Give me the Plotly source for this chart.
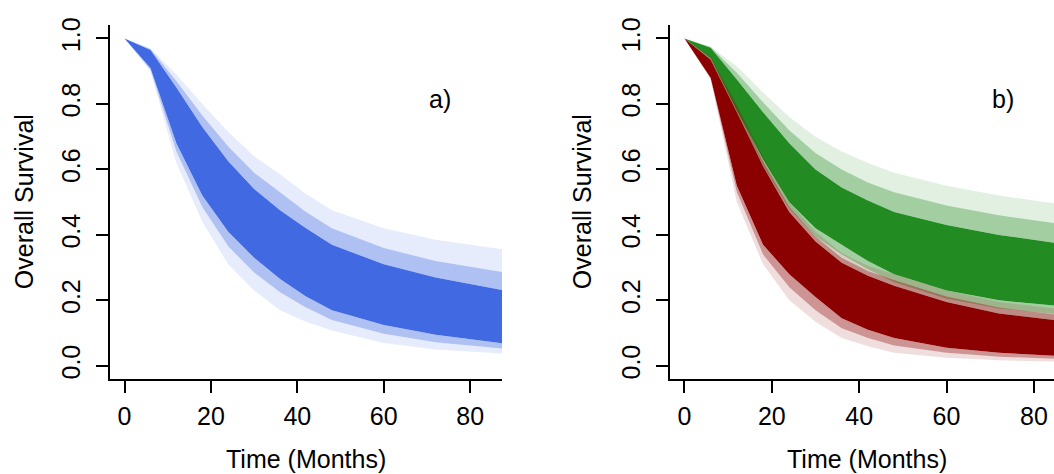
import plotly.graph_objects as go

# ---------------- data ----------------
months = [0, 6, 12, 18, 24, 30, 36, 42, 48, 60, 72, 88]
x_ticks = [0, 20, 40, 60, 80]
y_ticks = [0.0, 0.2, 0.4, 0.6, 0.8, 1.0]

# panel a) - blue envelope of simulated survival curves
blue_outer_lo = [1.0, 0.900, 0.620, 0.440, 0.310, 0.230, 0.170, 0.135, 0.108, 0.070, 0.050, 0.037]
blue_mid_lo   = [1.0, 0.905, 0.655, 0.485, 0.365, 0.285, 0.225, 0.178, 0.140, 0.098, 0.072, 0.052]
blue_core_lo  = [1.0, 0.910, 0.680, 0.520, 0.410, 0.330, 0.265, 0.212, 0.170, 0.125, 0.095, 0.068]
blue_core_up  = [1.0, 0.965, 0.850, 0.730, 0.625, 0.540, 0.475, 0.420, 0.370, 0.310, 0.270, 0.230]
blue_mid_up   = [1.0, 0.968, 0.870, 0.765, 0.670, 0.590, 0.530, 0.470, 0.420, 0.360, 0.320, 0.285]
blue_outer_up = [1.0, 0.970, 0.890, 0.800, 0.715, 0.640, 0.585, 0.525, 0.475, 0.420, 0.385, 0.355]

# panel b) - green envelope
green_outer_lo = [1.0, 0.930, 0.750, 0.590, 0.460, 0.370, 0.310, 0.270, 0.230, 0.180, 0.150, 0.130]
green_mid_lo   = [1.0, 0.935, 0.765, 0.610, 0.480, 0.395, 0.340, 0.295, 0.255, 0.205, 0.175, 0.155]
green_core_lo  = [1.0, 0.940, 0.780, 0.630, 0.500, 0.420, 0.370, 0.320, 0.280, 0.230, 0.200, 0.180]
green_core_up  = [1.0, 0.972, 0.875, 0.775, 0.680, 0.600, 0.545, 0.505, 0.470, 0.430, 0.400, 0.370]
green_mid_up   = [1.0, 0.974, 0.895, 0.805, 0.720, 0.650, 0.600, 0.560, 0.530, 0.490, 0.460, 0.430]
green_outer_up = [1.0, 0.975, 0.915, 0.835, 0.760, 0.700, 0.655, 0.620, 0.590, 0.550, 0.520, 0.490]

# panel b) - red envelope
red_outer_lo = [1.0, 0.875, 0.500, 0.310, 0.200, 0.135, 0.085, 0.060, 0.040, 0.025, 0.017, 0.012]
red_mid_lo   = [1.0, 0.878, 0.530, 0.340, 0.240, 0.170, 0.115, 0.085, 0.062, 0.040, 0.028, 0.020]
red_core_lo  = [1.0, 0.880, 0.550, 0.370, 0.280, 0.210, 0.145, 0.110, 0.085, 0.055, 0.040, 0.028]
red_core_up  = [1.0, 0.935, 0.775, 0.610, 0.470, 0.380, 0.315, 0.275, 0.245, 0.195, 0.160, 0.135]
red_mid_up   = [1.0, 0.940, 0.790, 0.625, 0.485, 0.395, 0.330, 0.290, 0.262, 0.212, 0.178, 0.152]
red_outer_up = [1.0, 0.945, 0.800, 0.640, 0.500, 0.410, 0.345, 0.305, 0.280, 0.230, 0.195, 0.170]

BLUE = "65,105,225"
GREEN = "34,139,34"
RED = "139,0,0"
FONT = "Liberation Sans, Arial, Helvetica, sans-serif"

fig = go.Figure()


def add_band(curves, rgb, xa, ya, alphas=(0.13, 0.42, 1.0, 0.42, 0.13)):
    for i, ys in enumerate(curves):
        fig.add_trace(go.Scatter(
            x=months, y=ys, mode="lines",
            line=dict(width=0, color="rgba(%s,0)" % rgb),
            fill="none" if i == 0 else "tonexty",
            fillcolor="rgba(%s,%s)" % (rgb, alphas[i - 1] if i else 0),
            hoverinfo="skip", showlegend=False, xaxis=xa, yaxis=ya))


add_band([blue_outer_lo, blue_mid_lo, blue_core_lo, blue_core_up, blue_mid_up, blue_outer_up], BLUE, "x", "y")
add_band([green_outer_lo, green_mid_lo, green_core_lo, green_core_up, green_mid_up, green_outer_up], GREEN, "x2", "y2")
add_band([red_outer_lo, red_mid_lo, red_core_lo, red_core_up, red_mid_up, red_outer_up], RED, "x2", "y2")

W, H = 1054, 474
ydom = [(H - 377.3) / H, (H - 17.7) / H]

axis_common = dict(showline=True, linecolor="black", linewidth=1.8, mirror=False,
                   ticks="outside", ticklen=12, tickwidth=1.8, tickcolor="black",
                   showgrid=False, zeroline=False,
                   tickfont=dict(family=FONT, size=25, color="black"))

fig.update_layout(
    width=W, height=H, margin=dict(l=0, r=0, t=0, b=0),
    paper_bgcolor="white", plot_bgcolor="white", showlegend=False,
    xaxis=dict(domain=[110 / W, 502 / W], range=[-3.36, 87.36], tickvals=x_ticks,
               anchor="y", ticklabelstandoff=2, **axis_common),
    yaxis=dict(domain=ydom, range=[-0.04, 1.04], tickvals=y_ticks, tickformat=".1f",
               tickangle=-90, anchor="x", ticklabelstandoff=6, **axis_common),
    xaxis2=dict(domain=[669.7 / W, 1.0], range=[-3.37, 84.6], tickvals=x_ticks,
                anchor="y2", ticklabelstandoff=2, **axis_common),
    yaxis2=dict(domain=ydom, range=[-0.04, 1.04], tickvals=y_ticks, tickformat=".1f",
                tickangle=-90, anchor="x2", ticklabelstandoff=6, **axis_common),
)

ann_font = dict(family=FONT, size=25, color="black")
fig.add_annotation(text="a)", x=73, y=0.815, xref="x", yref="y", showarrow=False, font=ann_font)
fig.add_annotation(text="b)", x=73, y=0.815, xref="x2", yref="y2", showarrow=False, font=ann_font)
fig.add_annotation(text="Time (Months)", x=306 / W, y=(H - 459) / H, xref="paper", yref="paper",
                   showarrow=False, font=ann_font, xanchor="center", yanchor="middle")
fig.add_annotation(text="Time (Months)", x=867 / W, y=(H - 459) / H, xref="paper", yref="paper",
                   showarrow=False, font=ann_font, xanchor="center", yanchor="middle")
fig.add_annotation(text="Overall Survival", x=24 / W, y=(H - 197.5) / H, xref="paper", yref="paper",
                   showarrow=False, font=ann_font, textangle=-90, xanchor="center", yanchor="middle")
fig.add_annotation(text="Overall Survival", x=582 / W, y=(H - 197.5) / H, xref="paper", yref="paper",
                   showarrow=False, font=ann_font, textangle=-90, xanchor="center", yanchor="middle")

fig.write_html("out.html")
